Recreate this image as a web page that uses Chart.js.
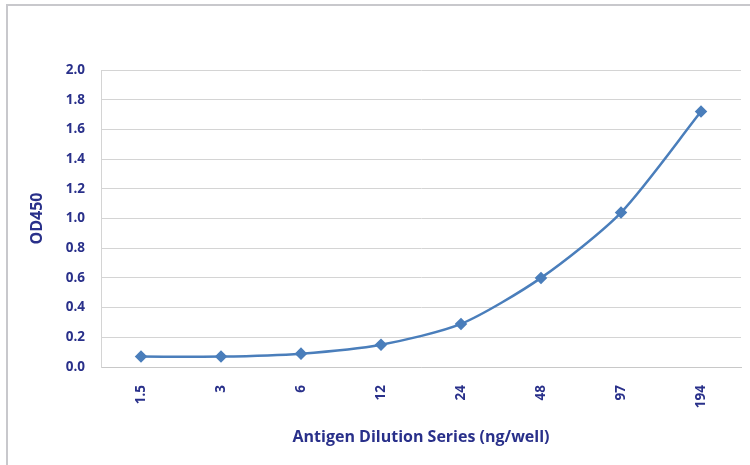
<!DOCTYPE html>
<html>
<head>
<meta charset="utf-8">
<script src="https://cdn.jsdelivr.net/npm/chart.js@4"></script>
<style>
  html, body { margin: 0; padding: 0; background: #ffffff; }
  #wrap { position: relative; width: 750px; height: 465px; }
  #frame { position: absolute; left: 6px; top: 4px; width: 744px; height: 461px;
           border-left: 2px solid #c8c8cc; border-top: 2px solid #c8c8cc; box-sizing: border-box; }
  canvas { position: absolute; left: 0; top: 0; }
</style>
</head>
<body>
<div id="wrap">
  <div id="frame"></div>
  <canvas id="c" width="750" height="465"></canvas>
</div>
<script>
const categories = ["1.5", "3", "6", "12", "24", "48", "97", "194"];
const od450 = [0.07, 0.07, 0.09, 0.15, 0.29, 0.60, 1.04, 1.72];
const yTicks = [0, 0.2, 0.4, 0.6, 0.8, 1.0, 1.2, 1.4, 1.6, 1.8, 2.0];
const xTitle = "Antigen Dilution Series (ng/well)";
const yTitle = "OD450";

const textColor = "#29308a";
const fontFamily = "'Open Sans', 'Liberation Sans', sans-serif";

new Chart(document.getElementById("c"), {
  type: "line",
  data: {
    labels: categories,
    datasets: [{
      data: od450,
      borderColor: "#4a7ebb",
      backgroundColor: "#4a7ebb",
      borderWidth: 2.5,
      tension: 0.25,
      pointStyle: "rectRot",
      pointRadius: 4.5,
      pointHoverRadius: 4.5,
      fill: false
    }]
  },
  options: {
    responsive: false,
    animation: false,
    devicePixelRatio: 1,
    layout: { padding: { left: 8, top: 70, right: 9, bottom: 8 } },
    plugins: { legend: { display: false }, tooltip: { enabled: false } },
    scales: {
      x: {
        offset: true,
        grid: { display: false, drawTicks: false },
        border: { display: true, color: "#c8c8c8", width: 1 },
        ticks: {
          color: textColor,
          font: { family: fontFamily, size: 13.5, weight: "bold" },
          minRotation: 90, maxRotation: 90,
          padding: 18
        },
        title: {
          display: true, text: xTitle, color: textColor,
          font: { family: fontFamily, size: 16, weight: "bold" },
          padding: { top: 4, bottom: 10 }
        },
        afterFit(scale) { scale.height = 90; }
      },
      y: {
        min: 0, max: 2.0,
        afterBuildTicks(scale) { scale.ticks = yTicks.map(v => ({ value: v })); },
        grid: { color: "#d4d4d4", lineWidth: 1, drawTicks: false },
        border: { display: true, color: "#d4d4d4", width: 1 },
        ticks: {
          color: textColor,
          font: { family: fontFamily, size: 13.5, weight: "bold" },
          padding: 16,
          callback: v => Number(v).toFixed(1)
        },
        title: {
          display: true, text: yTitle, color: textColor,
          font: { family: fontFamily, size: 16, weight: "bold" },
          padding: { top: 20, bottom: 0 }
        },
        afterFit(scale) { scale.width = 93; }
      }
    }
  }
});
</script>
</body>
</html>
